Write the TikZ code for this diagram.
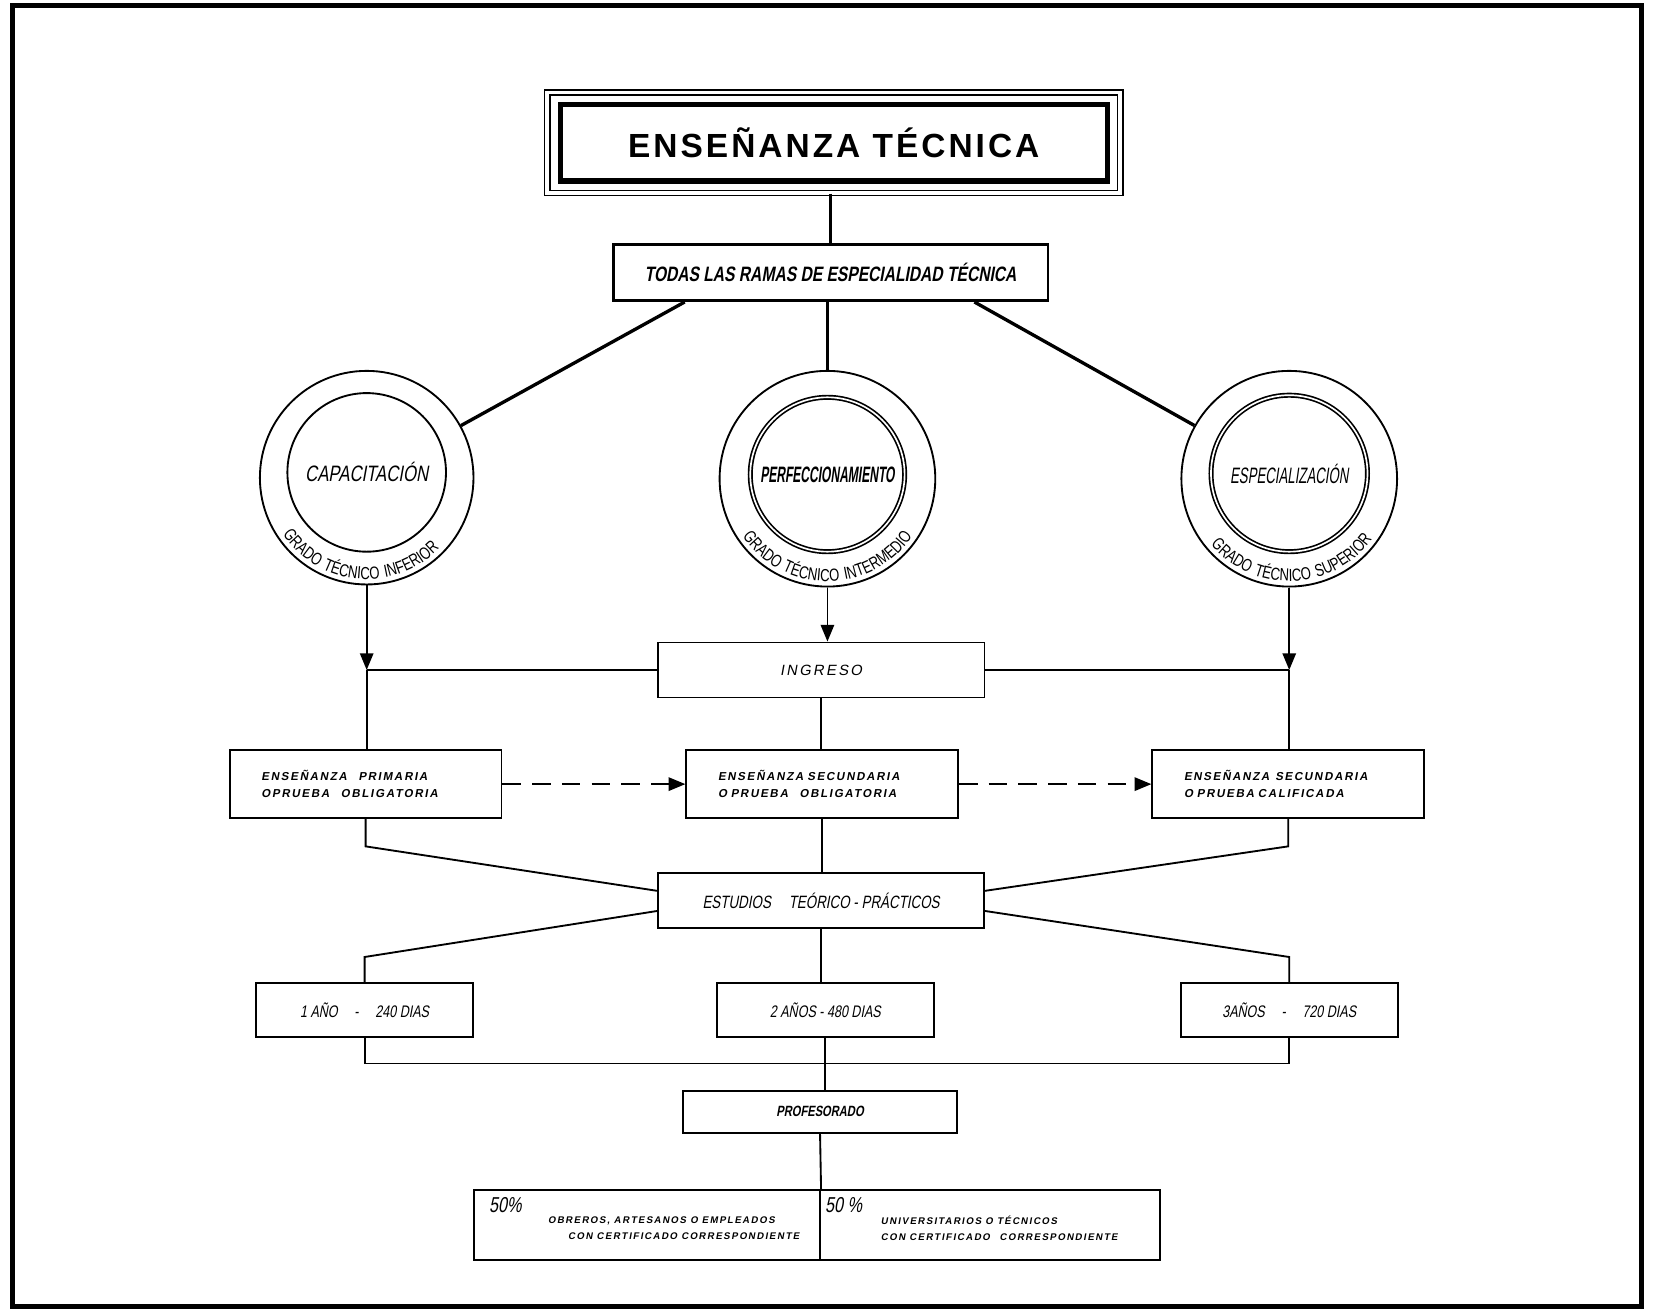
\documentclass[tikz,border=0pt]{standalone}
\usepackage{fontspec}
\usepackage{graphicx}
\usepackage{tikz}
\usetikzlibrary{arrows.meta,decorations.text}

\newfontfamily\rotulo[LetterSpace=9]{Liberation Sans}
\newfontfamily\mano[FakeStretch=0.75,FakeSlant=0.18]{Liberation Sans}
\newfontfamily\espaciada[FakeSlant=0.18,LetterSpace=15]{Liberation Sans}
\newfontfamily\anillo[FakeStretch=0.75,LetterSpace=10]{Liberation Sans}

\begin{document}
\begin{tikzpicture}[x=0.01cm,y=0.01cm,line width=0.5pt,
	caja/.style={draw,inner sep=0pt},
	circ/.style={draw,circle,inner sep=0pt},
	circdoble/.style={circ,double,double distance=0.45pt,line width=0.45pt},
	fila/.style={caja,align=left,text width=1.97cm,inner xsep=0.3cm,minimum height=0.64cm,font=\espaciada\bfseries\fontsize{3.1}{4.6}\selectfont},
	anio/.style={caja,minimum width=2.05cm,minimum height=0.51cm,font=\mano\fontsize{4.5}{5}\selectfont},
	pct/.style={anchor=north west,inner sep=0pt,font=\mano\fontsize{5.8}{6}\selectfont},
	grueso/.style={line width=0.9pt},
	flecha/.style={-{Triangle[length=4.5pt,width=3.6pt]}},
	discontinua/.style={flecha,dash pattern=on 5pt off 3pt},
	anillo/.style={decorate,decoration={text along path,text align=center,text={|\anillo\fontsize{4.7}{6}\selectfont|#1}}}
	]
	\useasboundingbox (0,0) rectangle (1568,-1241);
	\draw[line width=1.3pt] (12,-5) rectangle (1553,-1236);

	\node[draw,double,double distance=1pt,line width=0.4pt,minimum width=5.42cm,minimum height=0.95cm,font=\rotulo\bfseries\fontsize{9}{10}\selectfont] (titulo) at (789,-135) {ENSEÑANZA TÉCNICA};
	\draw[line width=1.4pt] ([shift={(13,-12)}]titulo.north west) rectangle ([shift={(-13,12)}]titulo.south east);
	\node[caja,line width=0.7pt,minimum width=4.11cm,minimum height=0.53cm,font=\mano\bfseries\fontsize{5.6}{6}\selectfont] (ramas) at (786,-258) {TODAS LAS RAMAS DE ESPECIALIDAD TÉCNICA};

	\node[circ,minimum size=2.02cm] (capext) at (347,-452) {};
	\node[circ,minimum size=1.5cm,font=\mano\fontsize{6}{7}\selectfont] (cap) at (347,-447) {CAPACITACIÓN};
	\node[circ,minimum size=2.04cm] (perext) at (783,-453) {};
	\node[circdoble,minimum size=1.46cm,font=\mano\bfseries\fontsize{6}{7}\selectfont] (per) at (783,-449) {\scalebox{0.72}[1]{PERFECCIONAMIENTO}};
	\node[circ,minimum size=2.04cm] (espext) at (1220,-453) {};
	\node[circdoble,minimum size=1.48cm,font=\mano\fontsize{6}{7}\selectfont] (esp) at (1220,-448) {\scalebox{0.79}[1]{ESPECIALIZACIÓN}};
	\path[anillo={GRADO TÉCNICO INFERIOR}] (capext.center) ++(175:0.96cm) arc[start angle=175,end angle=355,radius=0.96cm];
	\path[anillo={GRADO TÉCNICO INTERMEDIO}] (perext.center) ++(180:0.97cm) arc[start angle=180,end angle=360,radius=0.97cm];
	\path[anillo={GRADO TÉCNICO SUPERIOR}] (espext.center) ++(182:0.97cm) arc[start angle=182,end angle=362,radius=0.97cm];

	\node[caja,minimum width=3.09cm,minimum height=0.52cm,font=\espaciada\fontsize{4}{5}\selectfont] (ingreso) at (777,-634) {INGRESO};
	\node[fila] (primaria) at (346,-742) {ENSEÑANZA\quad PRIMARIA\\OPRUEBA\quad OBLIGATORIA};
	\node[fila] (secundaria) at (778,-742) {ENSEÑANZA SECUNDARIA\\O PRUEBA\quad OBLIGATORIA};
	\node[fila] (calificada) at (1219,-742) {ENSEÑANZA\enspace SECUNDARIA\\O PRUEBA CALIFICADA};
	\node[caja,minimum width=3.08cm,minimum height=0.52cm,font=\mano\fontsize{4.8}{5}\selectfont] (estudios) at (777,-852) {ESTUDIOS\quad TEÓRICO - PRÁCTICOS};
	\node[anio] (anio1) at (345,-956) {1 AÑO\quad -\quad 240 DIAS};
	\node[anio] (anio2) at (781,-956) {2 AÑOS - 480 DIAS};
	\node[anio] (anio3) at (1220,-956) {3AÑOS\quad -\quad 720 DIAS};
	\node[caja,minimum width=2.59cm,minimum height=0.4cm,font=\mano\bfseries\fontsize{4}{5}\selectfont] (prof) at (776,-1052) {PROFESORADO};

	\node[caja,minimum width=3.27cm,minimum height=0.66cm] (obreros) at (612.5,-1159) {};
	\node[caja,minimum width=3.22cm,minimum height=0.66cm] (univ) at (937,-1159) {};
	\node[pct] (pctobr) at ([shift={(14,-7)}]obreros.north west) {50\%};
	\node[pct] (pctuni) at ([shift={(5,-7)}]univ.north west) {50 \%};
	\node[anchor=west,align=left,font=\espaciada\bfseries\fontsize{2.6}{4.4}\selectfont] (txtobr) at ([xshift=0.58cm,yshift=-0.03cm]obreros.west) {OBREROS, ARTESANOS O EMPLEADOS\\\hspace{0.19cm}CON CERTIFICADO CORRESPONDIENTE};
	\node[anchor=west,align=left,font=\espaciada\bfseries\fontsize{2.6}{4.4}\selectfont] (txtuni) at ([xshift=0.46cm,yshift=-0.03cm]univ.west) {UNIVERSITARIOS O TÉCNICOS\\CON CERTIFICADO\quad CORRESPONDIENTE};

	\draw[grueso] (ramas.north |- titulo.south) -- (ramas.north);
	\draw[grueso] ([xshift=-1.38cm]ramas.south) -- (capext);
	\draw[grueso] (perext.north |- ramas.south) -- (perext.north);
	\draw[grueso] ([xshift=1.36cm]ramas.south) -- (espext);

	\coordinate (izq) at (capext.south |- ingreso.west);
	\coordinate (der) at (espext.south |- ingreso.east);
	\path[flecha]
	(capext.south) edge (izq)
	(perext.south) edge (perext.south |- ingreso.north)
	(espext.south) edge (der);
	\draw (izq) -- (ingreso.west) (ingreso.east) -- (der);
	\draw (izq) -- (izq |- primaria.north) (der) -- (der |- calificada.north);
	\draw (ingreso.south) -- (ingreso.south |- secundaria.north);
	\path[discontinua]
	(primaria) edge (secundaria)
	(secundaria) edge (calificada);

	\draw (primaria.south) -- ++(0,-26) -- ([yshift=0.09cm]estudios.west);
	\draw (calificada.south) -- ++(0,-26) -- ([yshift=0.09cm]estudios.east);
	\draw (secundaria.south) -- (secundaria.south |- estudios.north);
	\draw ([yshift=-0.1cm]estudios.west) -- ([yshift=0.24cm]anio1.north) -- (anio1.north);
	\draw ([yshift=-0.1cm]estudios.east) -- ([yshift=0.24cm]anio3.north) -- (anio3.north);
	\draw (estudios.south) -- (estudios.south |- anio2.north);
	\draw (anio1.south) -- ++(0,-24) -| (anio3.south);
	\draw (anio2.south) -- (anio2.south |- prof.north);
	\draw (prof.south) -- (obreros.north east);
\end{tikzpicture}
\end{document}
